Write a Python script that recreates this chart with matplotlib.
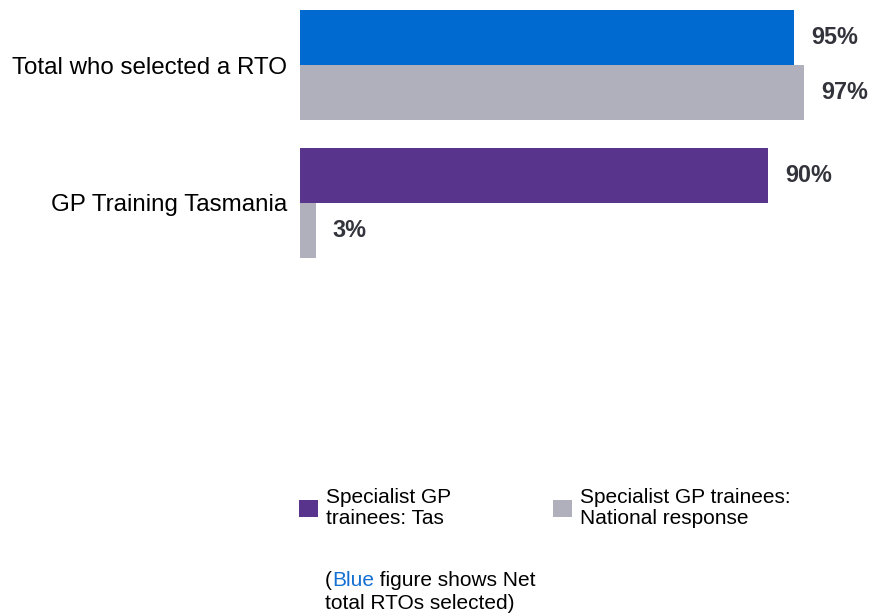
import matplotlib
matplotlib.use("Agg")
import matplotlib.pyplot as plt
from matplotlib.patches import Patch
import numpy as np

plt.rcParams['font.family'] = ['Liberation Sans', 'DejaVu Sans']

categories = ["Total who selected a RTO", "GP Training Tasmania"]
tas_values = [95, 90]
national_values = [97, 3]
value_labels_tas = ["95%", "90%"]
value_labels_nat = ["97%", "3%"]
legend_labels = ["Specialist GP\ntrainees: Tas", "Specialist GP trainees:\nNational response"]

BLUE = "#006AD0"
PURPLE = "#58348C"
GRAY = "#B0B0BC"
LABEL = "#33333B"

W, H = 874, 616
fig = plt.figure(figsize=(W / 100, H / 100), dpi=100)

# axes: x from 300px to 820px (0..100), y from top 0px to 300px
ax_left, ax_right = 300, 820
ax_top, ax_bottom = 0, 300
ax = fig.add_axes([ax_left / W, 1 - ax_bottom / H, (ax_right - ax_left) / W, (ax_bottom - ax_top) / H])

y = np.arange(len(categories))
h = 0.4
tas_colors = [BLUE, PURPLE]
c1 = ax.barh(y - h / 2, tas_values, height=h, color=tas_colors)
c2 = ax.barh(y + h / 2, national_values, height=h, color=GRAY)

ax.bar_label(c1, labels=value_labels_tas, padding=12.2, fontsize=16.8,
             fontweight='bold', color=LABEL)
ax.bar_label(c2, labels=value_labels_nat, padding=12.2, fontsize=16.8,
             fontweight='bold', color=LABEL)

ax.set_xlim(0, 100)
unit = 138.0
top_units = 65 / unit
ax.set_ylim(-top_units + (ax_bottom - ax_top) / unit, -top_units)

ax.set_yticks(y)
ax.set_yticklabels(categories, fontsize=17.4, color="black")
ax.tick_params(axis='y', length=0, pad=9.4)
ax.set_xticks([])
for s in ax.spines.values():
    s.set_visible(False)
ax.patch.set_alpha(0)

handles = [Patch(facecolor=PURPLE, edgecolor='none'), Patch(facecolor=GRAY, edgecolor='none')]
leg = fig.legend(handles, legend_labels, loc='upper left',
                 bbox_to_anchor=(299 / W, 1 - 488 / H), ncol=2, frameon=False,
                 fontsize=15, handlelength=0.91, handleheight=0.91,
                 handletextpad=0.38, columnspacing=4.9, borderpad=0,
                 borderaxespad=0)
for t in leg.get_texts():
    t.set_linespacing(1.15)

# note text with coloured word
fig.canvas.draw()
r = fig.canvas.get_renderer()
nx, ny1, ny2 = 325, 586, 609
fs = 15
parts = [("(", "black"), ("Blue", "#1470D2"), (" figure shows Net", "black")]
cx = nx
for txt, col in parts:
    t = fig.text(cx / W, 1 - ny1 / H, txt, fontsize=fs, color=col, va='baseline', ha='left')
    cx += t.get_window_extent(r).width
fig.text(nx / W, 1 - ny2 / H, "total RTOs selected)", fontsize=fs, color="black",
         va='baseline', ha='left')

fig.savefig("out.png", dpi=100)
